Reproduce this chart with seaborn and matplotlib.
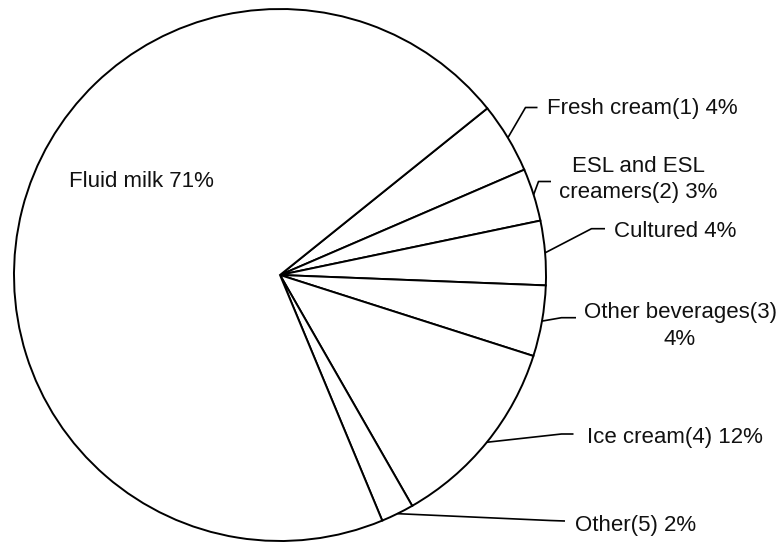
import numpy as np
import matplotlib
matplotlib.use("Agg")
import matplotlib.pyplot as plt
import seaborn as sns

# ==========================================
# DATA
# ==========================================
categories = ["Fresh cream(1)", "ESL and ESL\ncreamers(2)", "Cultured",
              "Other beverages(3)\n", "Ice cream(4)", "Other(5)", "Fluid milk"]
shares = [4.3, 3.2, 3.9, 4.3, 11.8, 2.0, 70.5]
label_pct = ["4%", "3%", "4%", "4%", "12%", "2%", "71%"]

# ==========================================
# LAYOUT (pixels, origin top-left)
# ==========================================
W, H = 780, 542
CX, CY, R = 280, 275, 266
FS = 16
LINE_GAP = 26.5

# elbow start, elbow end, text anchor (x, first baseline), alignment
leaders = [
    ((525.5, 107.5), (537.5, 107.5), (547, 114), "left"),
    ((538.5, 181.5), (551, 181.5), (638.5, 171.7), "center"),
    ((591.5, 228.7), (605, 228.7), (614, 237.3), "left"),
    ((561.5, 317.7), (576, 317.7), (680, 318.3), "center"),
    ((561.5, 434), (573.5, 434), (587, 442.7), "left"),
    ((550, 520.5), (565, 521), (575, 530.7), "left"),
]
inside_label = (69, 187.3)

sns.set_theme(style="white")
plt.rcParams['font.family'] = ['Liberation Sans', 'DejaVu Sans']

fig = plt.figure(figsize=(W / 100, H / 100), dpi=100)
fig.patch.set_facecolor("white")

ax = fig.add_axes([(CX - R) / W, (H - CY - R) / H, 2 * R / W, 2 * R / H])
wedges, _ = ax.pie(shares, startangle=38.8, counterclock=False,
                   colors=["white"] * len(shares),
                   wedgeprops=dict(edgecolor="black", linewidth=1.4))
ax.set_aspect("auto")
ax.set_xlim(-1, 1)
ax.set_ylim(-1, 1)
ax.axis("off")

# overlay in pixel coordinates for leaders and labels
ov = fig.add_axes([0, 0, 1, 1])
ov.set_xlim(0, W)
ov.set_ylim(H, 0)
ov.axis("off")
ov.patch.set_alpha(0)

for i, (p1, p2, tpos, ha) in enumerate(leaders):
    w = wedges[i]
    mid = np.deg2rad((w.theta1 + w.theta2) / 2)
    sx = CX + R * np.cos(mid)
    sy = CY - R * np.sin(mid)
    ov.plot([sx, p1[0], p2[0]], [sy, p1[1], p2[1]], color="black", lw=1.2,
            solid_capstyle="butt")
    parts = categories[i].split("\n")
    if parts[-1] == "":
        parts[-1] = label_pct[i]
    else:
        parts[-1] = f"{parts[-1]} {label_pct[i]}"
    for k, line in enumerate(parts):
        ov.text(tpos[0], tpos[1] + k * LINE_GAP, line, ha=ha, va="baseline",
                fontsize=FS, color="#111111")

ov.text(inside_label[0], inside_label[1], f"{categories[-1]} {label_pct[-1]}",
        ha="left", va="baseline", fontsize=FS, color="#111111")

fig.savefig("out.png", dpi=100, facecolor="white")
plt.close(fig)
